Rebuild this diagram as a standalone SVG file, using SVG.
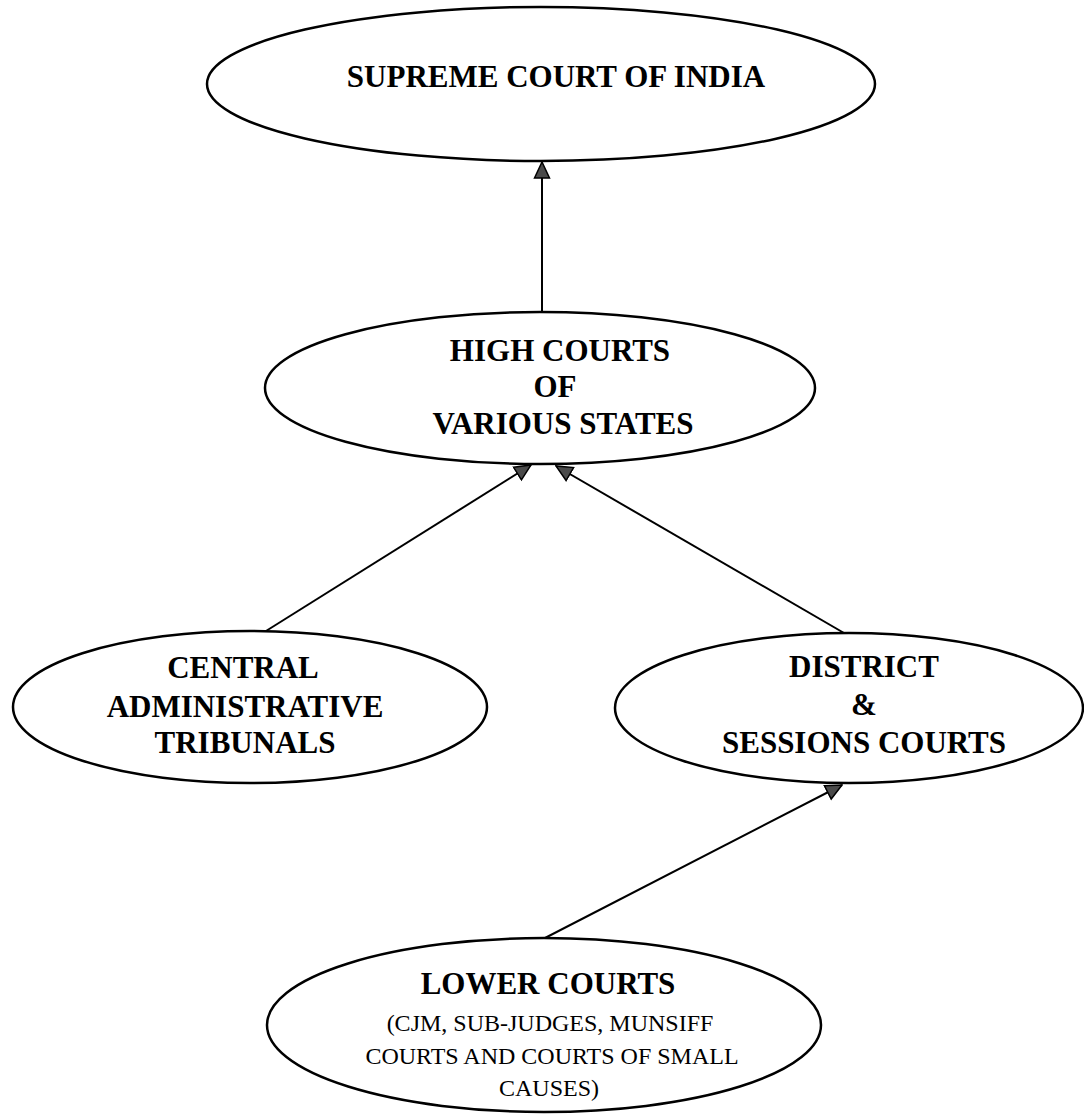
<svg xmlns="http://www.w3.org/2000/svg" width="1084" height="1114" viewBox="0 0 1084 1114">
<style>
.node ellipse{fill:#fff;stroke:#000;stroke-width:2.5}
.h{font-family:"Liberation Serif","Times New Roman",serif;font-weight:bold;font-size:31px;fill:#000;text-anchor:middle}
.s{font-family:"Liberation Serif","Times New Roman",serif;font-size:24px;fill:#000;text-anchor:middle}
.conn line{stroke:#000;stroke-width:2;marker-end:url(#arr)}
</style>
<defs>
<marker id="arr" markerUnits="userSpaceOnUse" viewBox="0 0 18 18" refX="17" refY="9" markerWidth="18" markerHeight="18" orient="auto">
<path d="M1,1.5 L17,9 L1,16.5 Z" fill="#4a4a4a" stroke="#000" stroke-width="1.5"/>
</marker>
</defs>
<rect width="1084" height="1114" fill="#fff"/>
<g id="connectors" class="conn">
<line x1="542" y1="312" x2="542" y2="162"/>
<line x1="266" y1="631" x2="531" y2="465"/>
<line x1="844" y1="633" x2="556" y2="466"/>
<line x1="545" y1="938" x2="842" y2="785"/>
</g>
<g id="supreme" class="node">
<ellipse cx="541" cy="84" rx="334" ry="77"/>
<text class="h" x="556" y="87">SUPREME COURT OF INDIA</text>
</g>
<g id="high" class="node">
<ellipse cx="540" cy="388" rx="275" ry="76"/>
<text class="h" x="560" y="361">HIGH COURTS</text>
<text class="h" x="555" y="397">OF</text>
<text class="h" x="563" y="434">VARIOUS STATES</text>
</g>
<g id="cat" class="node">
<ellipse cx="250" cy="707" rx="237" ry="76"/>
<text class="h" x="243" y="678">CENTRAL</text>
<text class="h" x="245" y="717">ADMINISTRATIVE</text>
<text class="h" x="245" y="753">TRIBUNALS</text>
</g>
<g id="district" class="node">
<ellipse cx="849" cy="708" rx="234" ry="75"/>
<text class="h" x="864" y="677">DISTRICT</text>
<text class="h" x="864" y="715">&amp;</text>
<text class="h" x="864" y="753">SESSIONS COURTS</text>
</g>
<g id="lower" class="node">
<ellipse cx="544" cy="1025" rx="277" ry="87"/>
<text class="h" x="548" y="994">LOWER COURTS</text>
<text class="s" x="550" y="1031">(CJM, SUB-JUDGES, MUNSIFF</text>
<text class="s" x="552" y="1064">COURTS AND COURTS OF SMALL</text>
<text class="s" x="549" y="1096">CAUSES)</text>
</g>
</svg>
